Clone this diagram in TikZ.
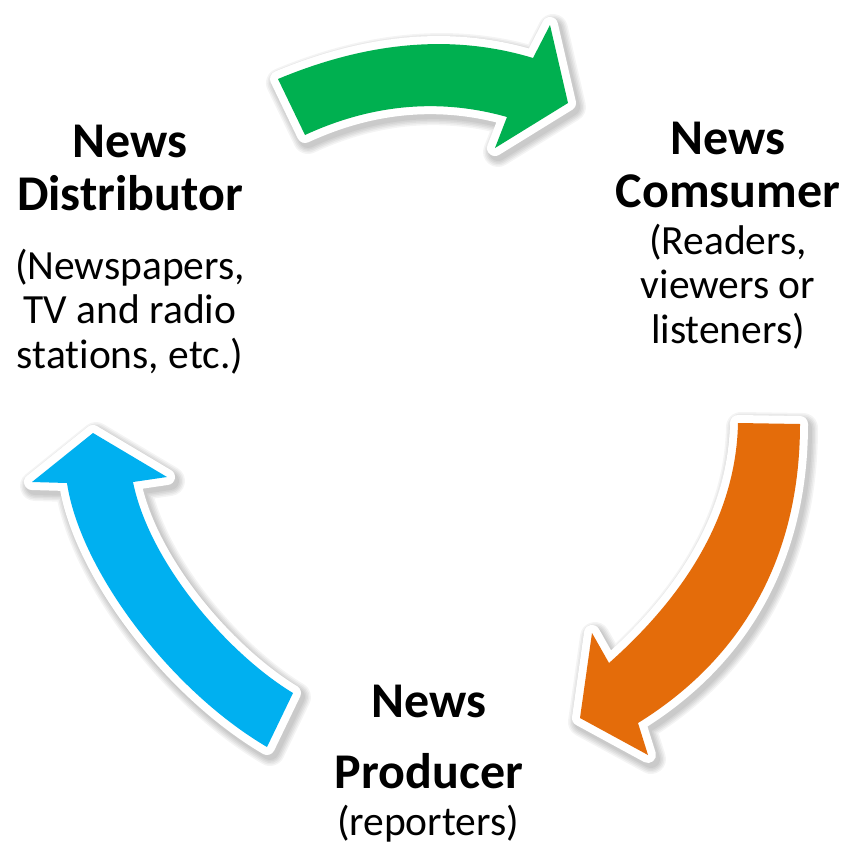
\documentclass[tikz,border=0pt]{standalone}
\usepackage{fontspec}
\setmainfont[Ligatures=NoCommon]{Carlito}
\definecolor{arrowgreen}{HTML}{00B050}
\definecolor{arroworange}{HTML}{E46C0A}
\definecolor{arrowblue}{HTML}{00B0F0}

% A curved block arrow: soft drop shadow, white rim, coloured body.
\newcommand\blockarrow[2]{%
  \foreach \w in {30,27,24,21,18}{%
    \path[arrowshadow, line width=\w pt] #2;
  }
  \path[arrowrim] #2;
  \fill[#1] #2;
}

\begin{document}
\begin{tikzpicture}[x=1pt, y=-1pt,
  arrowshadow/.style={draw=black, fill=black, opacity=0.045, line join=round, shift={(3,4)}},
  arrowrim/.style={draw=white, fill=white, line width=16pt, line join=round},
  title/.style={font=\bfseries\fontsize{50}{53}\selectfont, align=center, anchor=base, inner sep=0pt},
  detail/.style={font=\fontsize{41.5}{44.5}\selectfont, align=center, anchor=base, inner sep=0pt}]

\fill[white] (0,0) rectangle (852,844);
\useasboundingbox (0,0) rectangle (852,844);

% distributor -> consumer
\blockarrow{arrowgreen}{(278,79) .. controls (369,41) and (454,34) .. (533,58)
  -- (550,25) -- (568,103) -- (495,148) -- (507,117)
  .. controls (440,98) and (372,104) .. (305,135) -- cycle}

% consumer -> producer
\blockarrow{arroworange}{(738,423) -- (800,424)
  .. controls (800,560) and (740,660) .. (638,723)
  -- (648,755) -- (580,718) -- (592,633) -- (609,663)
  .. controls (680,600) and (736,520) .. (738,423) -- cycle}

% producer -> distributor
\blockarrow{arrowblue}{(293,693) -- (267,747)
  .. controls (170,690) and (80,570) .. (67,483)
  -- (32,482) -- (93,433) -- (167,477) -- (133,482)
  .. controls (150,565) and (230,655) .. (293,693) -- cycle}

% multi-line nodes are anchored on the baseline of their last line
\node[title]  (distT) at (130,210) {News\\Distributor};
\node[detail] (distD) at (130,368) {(Newspapers,\\TV and radio\\stations, etc.)};

\node[title]  (consT) at (728,207) {News\\Comsumer};
\node[detail] (consD) at (728,343) {(Readers,\\viewers or\\listeners)};

\node[title]  (prodT) at (429,788) {News\\[18pt]Producer};
\node[detail] (prodD) at (428,835) {(reporters)};

\end{tikzpicture}
\end{document}
